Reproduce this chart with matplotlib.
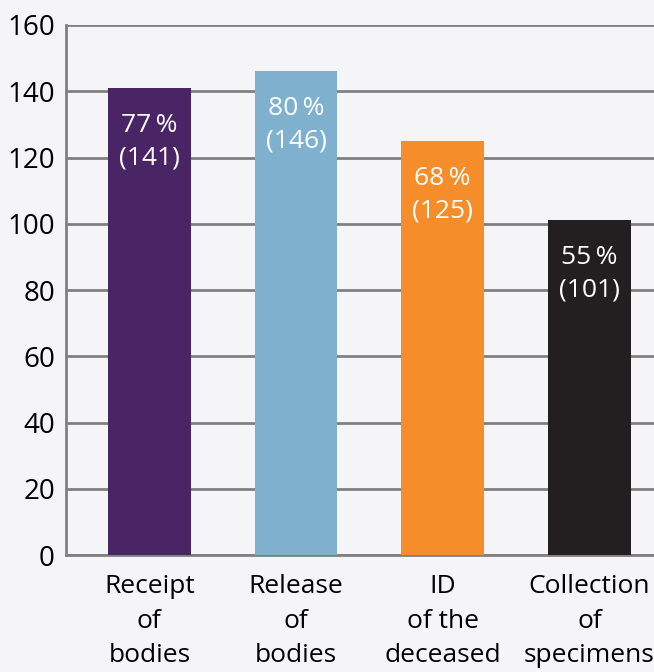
import matplotlib
matplotlib.use("Agg")
import matplotlib.pyplot as plt
import numpy as np

# chart data
categories = ["Receipt\nof\nbodies", "Release\nof\nbodies", "ID\nof the\ndeceased", "Collection\nof\nspecimens"]
counts = [141, 146, 125, 101]
percents = [77, 80, 68, 55]
colors = ["#4a2566", "#7fb1cf", "#f58d2b", "#231f20"]
yticks = [0, 20, 40, 60, 80, 100, 120, 140, 160]

plt.rcParams['font.family'] = ['Open Sans', 'DejaVu Sans']
bg = "#f5f4f7"
grid_col = "#808080"

fig = plt.figure(figsize=(6.54, 6.72), dpi=100, facecolor=bg)
ax = fig.add_axes([0.1009, 0.1741, 0.8991, 0.7887], facecolor=bg)

x = np.arange(len(categories))
bars = ax.bar(x, counts, width=0.565, color=colors, zorder=3)

# value labels inside the bars
for xi, c, p in zip(x, counts, percents):
    ax.annotate(f"{p}\u2009%\n({c})", xy=(xi, c), xytext=(0, -18),
                textcoords="offset points", ha="center", va="top",
                color="white", fontsize=19, linespacing=1.38, zorder=4)

ax.set_xlim(-0.568, 3.44)
ax.set_ylim(0, 160)
ax.set_yticks(yticks)
ax.set_xticks(x)
ax.set_xticklabels(categories, fontsize=19, linespacing=1.5)
ax.tick_params(axis="y", labelsize=20, length=0, pad=8)
ax.tick_params(axis="x", length=0, pad=14)

ax.grid(axis="y", color=grid_col, linewidth=2, zorder=1)
for side in ["top", "right"]:
    ax.spines[side].set_visible(False)
for side in ["left", "bottom"]:
    ax.spines[side].set_color(grid_col)
    ax.spines[side].set_linewidth(2)

plt.savefig("out.png", dpi=100, facecolor=bg)
